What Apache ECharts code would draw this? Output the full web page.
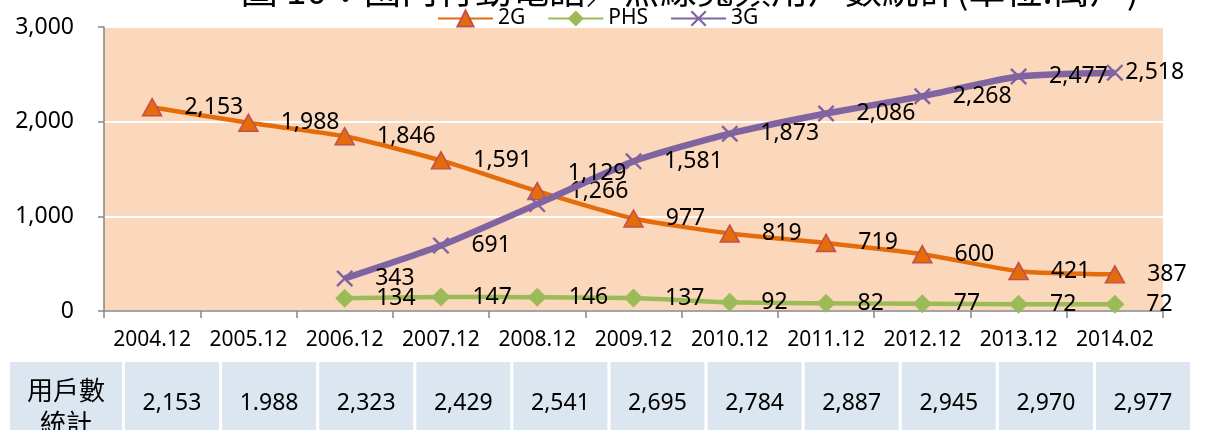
<!DOCTYPE html>
<html>
<head>
<meta charset="utf-8">
<script src="https://cdn.jsdelivr.net/npm/echarts/dist/echarts.min.js"></script>
<style>
  html, body { margin: 0; padding: 0; background: #fff; }
  #main { width: 1212px; height: 430px; }
</style>
</head>
<body>
<div id="main"></div>
<script>
// data (unit: 萬戶)
const categories = ['2004.12', '2005.12', '2006.12', '2007.12', '2008.12', '2009.12',
                    '2010.12', '2011.12', '2012.12', '2013.12', '2014.02'];
const users2G  = [2153, 1988, 1846, 1591, 1266, 977, 819, 719, 600, 421, 387];
const usersPHS = [null, null, 134, 147, 146, 137, 92, 82, 77, 72, 72];
const users3G  = [null, null, 343, 691, 1129, 1581, 1873, 2086, 2268, 2477, 2518];
const totalLabels = ['2,153', '1.988', '2,323', '2,429', '2,541', '2,695',
                     '2,784', '2,887', '2,945', '2,970', '2,977'];
const tableHead = ['用戶數', '統計'];
const titleText = '圖 10：國內行動電話／無線寬頻用戶數統計(單位:萬戶)';

const FONT = '"Noto Sans", "Noto Sans CJK TC", sans-serif';
const CJK = '"Noto Sans CJK TC", "Noto Sans", sans-serif';
const fmt = v => v == null ? '' : String(v).replace(/\B(?=(\d{3})+(?!\d))/g, ',');

const gridLeft = 104, gridRight = 49, gridTop = 27, gridBottom = 119;

var myChart = echarts.init(document.getElementById('main'));

const baseLabel = {
    show: true,
    position: 'right',
    distance: 22,
    color: '#000',
    fontFamily: FONT,
    fontSize: 23,
    formatter: p => fmt(p.value)
};

// 3G labels: two of them sit differently in the original
const data3G = users3G.map((v, i) => {
    if (i === 4) return { value: v, label: { offset: [0, -31] } };
    if (i === users3G.length - 1) return { value: v, label: { distance: 2 } };
    return v;
});

// table under the axis (its columns are not aligned with the plot)
const tableGraphics = [];
const tableTop = 362, tableH = 80;
const headX = 10, headW = 112, cellX0 = 125, cellStep = 97.1, cellW = 94;
tableGraphics.push({
    type: 'rect', shape: { x: headX, y: tableTop, width: headW, height: tableH },
    style: { fill: '#DCE6F1' }, silent: true
});
tableGraphics.push({
    type: 'text', x: headX + headW / 2, y: 390,
    style: { text: tableHead[0], fill: '#000', font: '26px ' + CJK, align: 'center', verticalAlign: 'middle' }
});
tableGraphics.push({
    type: 'text', x: headX + headW / 2, y: 423,
    style: { text: tableHead[1], fill: '#000', font: '26px ' + CJK, align: 'center', verticalAlign: 'middle' }
});
totalLabels.forEach((t, i) => {
    const x0 = cellX0 + i * cellStep;
    tableGraphics.push({
        type: 'rect', shape: { x: x0, y: tableTop, width: cellW, height: tableH },
        style: { fill: '#DCE6F1' }, silent: true
    });
    tableGraphics.push({
        type: 'text', x: x0 + cellW / 2, y: 403,
        style: { text: t, fill: '#000', font: '23px ' + FONT, align: 'center', verticalAlign: 'middle' }
    });
});

var option = {
    animation: false,
    backgroundColor: '#fff',
    textStyle: { fontFamily: FONT },
    graphic: [
        {
            type: 'text', x: 690, y: -29, z: -1,
            style: { text: titleText, fill: '#000', font: '37px ' + CJK, align: 'center', verticalAlign: 'top' }
        }
    ].concat(tableGraphics),
    legend: {
        left: 432,
        top: 3,
        itemWidth: 55,
        itemHeight: 20,
        itemGap: 22,
        textStyle: { fontSize: 21, color: '#000', fontFamily: FONT },
        data: ['2G', 'PHS', '3G']
    },
    grid: {
        left: gridLeft, right: gridRight, top: gridTop, bottom: gridBottom,
        show: true, backgroundColor: '#FBD7BB', borderWidth: 0
    },
    xAxis: {
        type: 'category',
        data: categories,
        boundaryGap: true,
        axisLine: { lineStyle: { color: '#868686', width: 1.5 } },
        axisTick: { show: true, length: 7, lineStyle: { color: '#868686', width: 1.5 } },
        axisLabel: { color: '#000', fontSize: 21, margin: 19, interval: 0, fontFamily: FONT }
    },
    yAxis: {
        type: 'value',
        min: 0, max: 3000, interval: 1000,
        axisLine: { show: true, lineStyle: { color: '#868686', width: 1.5 } },
        axisTick: { show: true, length: 6, lineStyle: { color: '#868686', width: 1.5 } },
        axisLabel: { color: '#000', fontSize: 23, margin: 30, fontFamily: FONT, formatter: fmt },
        splitLine: { lineStyle: { color: '#fff', width: 2 } }
    },
    series: [
        {
            name: '2G',
            type: 'line',
            data: users2G,
            smooth: 0.2,
            symbol: 'triangle',
            symbolSize: [19, 17],
            lineStyle: { color: '#E46C0A', width: 4.5 },
            itemStyle: { color: '#E46C0A', borderColor: '#C0504D', borderWidth: 1.5 },
            label: baseLabel,
            z: 3
        },
        {
            name: 'PHS',
            type: 'line',
            data: usersPHS,
            smooth: 0.2,
            symbol: 'diamond',
            symbolSize: [19, 19],
            lineStyle: { color: '#9BBB59', width: 4.5 },
            itemStyle: { color: '#9BBB59', borderWidth: 0 },
            label: baseLabel,
            z: 2
        },
        {
            name: '3G',
            type: 'line',
            data: data3G,
            smooth: 0.2,
            symbol: 'path://M0,1L1,0L10,9L9,10Z M9,0L10,1L1,10L0,9Z',
            symbolSize: [17, 17],
            lineStyle: { color: '#8064A2', width: 6.5 },
            itemStyle: { color: '#8064A2', borderWidth: 0 },
            label: baseLabel,
            z: 4
        }
    ]
};
myChart.setOption(option);
</script>
</body>
</html>
